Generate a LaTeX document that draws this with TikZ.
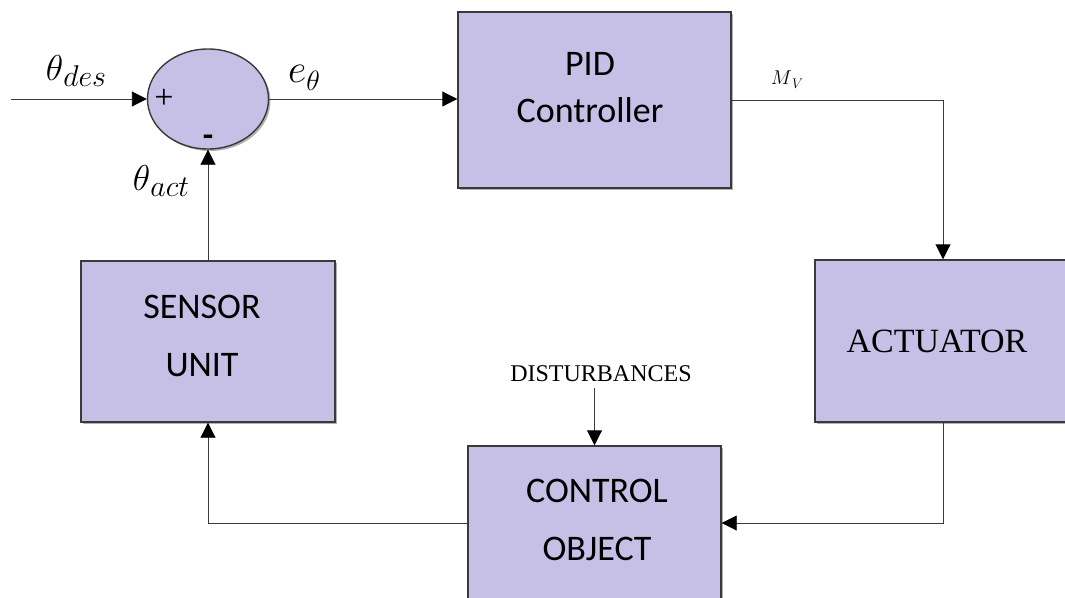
\documentclass[tikz,border=0pt]{standalone}
\usepackage{fix-cm}
\usepackage{fontspec}
\setmainfont{Carlito}
\newfontfamily\timesf{Liberation Serif}
\usetikzlibrary{shapes.geometric,arrows.meta,shadows}
\definecolor{boxfill}{HTML}{C7C0E6}
\definecolor{edgec}{HTML}{3A3A3A}
\begin{document}
\begin{tikzpicture}[x=1pt,y=-1pt,
  blk/.style={draw=edgec,line width=1.4pt,fill=boxfill,inner sep=0pt,
    drop shadow={shadow xshift=2pt,shadow yshift=-2pt,opacity=0.3,fill=black}},
  conn/.style={draw=edgec,line width=0.9pt},
  arr/.style={conn,-{Triangle[length=15pt,width=15pt,color=black,fill=black]}},
  lbl/.style={font=\fontsize{36}{58}\selectfont,align=center,inner sep=0pt},
  mlbl/.style={inner sep=0pt}]
\useasboundingbox (0,0) rectangle (1065,597);
\clip (0,0) rectangle (1065,597);
% summing junction
\node[blk,ellipse,minimum width=121pt,minimum height=100pt] (sum) at (208,99) {};
\node[mlbl] (plus) at (164,99) {\timesf\fontsize{34}{34}\selectfont +};
\node[mlbl] (minus) at (208,141) {\bfseries\fontsize{34}{34}\selectfont -};
% blocks
\node[blk,minimum width=273pt,minimum height=176pt] (pid) at (594.5,100) {};
\node[lbl,font=\fontsize{36}{47}\selectfont] (pidt) at (590,88) {PID\\Controller};
\node[blk,minimum width=256pt,minimum height=162pt] (act) at (943,341) {};
\node[lbl,font=\timesf\fontsize{34}{34}\selectfont] (actt) at (937,341) {ACTUATOR};
\node[blk,minimum width=253pt,minimum height=154pt] (ctl) at (594.5,523) {};
\node[lbl] (ctlt) at (597,520) {CONTROL\\OBJECT};
\node[blk,minimum width=254pt,minimum height=161pt] (sen) at (208,341.5) {};
\node[lbl] (sent) at (202,336) {SENSOR\\UNIT};
% labels
\node[mlbl] (thdes) at (76,71) {\fontsize{36}{36}\selectfont$\theta$\raisebox{-6pt}{\fontsize{30}{30}\selectfont$des$}};
\node[mlbl] (eth) at (304,78) {\fontsize{40}{40}\selectfont$e$\raisebox{-8pt}{\fontsize{28}{28}\selectfont$\theta$}};
\node[mlbl] (thact) at (161,181) {\fontsize{36}{36}\selectfont$\theta$\raisebox{-6pt}{\fontsize{30}{30}\selectfont$act$}};
\node[mlbl] (mv) at (787,80) {\fontsize{20}{20}\selectfont$M$\raisebox{-4pt}{\fontsize{14}{14}\selectfont$V$}};
\node[mlbl,font=\timesf\fontsize{24}{24}\selectfont] (dist) at (601,374) {DISTURBANCES};
% connectors
\coordinate (in) at (11,99);
\draw[arr] (in) -- (sum.west);
\draw[arr] (sum.east) -- (pid.west |- sum.east);
\draw[arr] (pid.east) -| (act.north);
\draw[arr] (act.south) |- (ctl.east);
\draw[arr] (ctl.west) -| (sen.south);
\draw[arr] (sen.north) -- (sum.south);
\draw[arr] (dist.south -| ctl.north) ++(0,6) -- (ctl.north);
\end{tikzpicture}
\end{document}
